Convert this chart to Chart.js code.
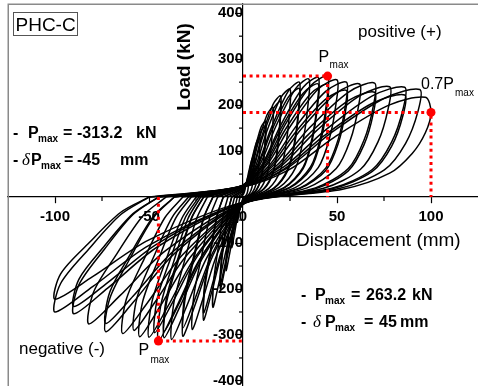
<!DOCTYPE html>
<html><head><meta charset="utf-8">
<script src="https://cdn.jsdelivr.net/npm/chart.js@4"></script>
<style>html,body{margin:0;padding:0;background:#fff}canvas{display:block}</style>
</head><body>
<canvas id="c" width="478" height="386"></canvas>
<script>
// ---- tick values ----
const xTicks=[-100,-50,0,50,100];
const yTicks=[-400,-300,-200,-100,0,100,200,300,400];
const xMinor=[-75,-25,25,75];
const yMinor=[-350,-250,-150,-50,50,150,250,350];
// ---- key points (displacement, load) ----
const pmaxPos=[45,263.2];
const pmax07=[100,184.2];
const pmaxNeg=[-45,-313.2];
// ---- hysteresis cycles, flat [disp(mm), load(kN), ...] ----
const cyc01=[-1.5,0, 0,5, 0.8,12, 1.5,27, 2.4,41, 3,45, 3,36, 2.8,22, 2.4,11, 1.7,4, 0,-3, -1.5,-23, -2.4,-43, -3,-55, -2.9,-41, -2.5,-25, -2,-8, -1.5,0];
const cyc02=[-3,0, 0,9, 1.5,24, 3,54, 4.8,83, 6,90, 5.9,72, 5.5,45, 4.8,22, 3.3,7, 0,-6, -3,-46, -4.8,-86, -6,-110, -5.8,-82, -4.9,-50, -3.9,-16, -3,0];
const cyc03=[-4.5,0, 0,13, 2.3,35, 4.5,78, 7.2,120, 9,130, 8.9,104, 8.3,65, 7.2,32, 5,10, 0,-8, -4.5,-67, -7.2,-125, -9,-160, -8.7,-120, -7.4,-72, -5.9,-24, -4.5,0];
const cyc04=[-6,0, 0,17, 3,45, 6,99, 9.6,152, 12,165, 11.9,132, 11,83, 9.6,41, 6.6,13, 0,-10, -6,-84, -9.6,-156, -12,-200, -11.6,-150, -9.8,-90, -7.8,-30, -6,0];
const cyc04b=[-6,0, 0,16, 3,42, 6,93, 9.6,143, 12,155, 11.9,124, 11,78, 9.6,39, 6.6,12, 0,-9, -6,-79, -9.6,-147, -12,-188, -11.6,-141, -9.8,-85, -7.8,-28, -6,0];
const cyc05=[-8,0, 0,20, 4,53, 8,117, 12.8,179, 16,195, 15.8,156, 14.7,98, 12.8,49, 8.8,16, 0,-12, -8,-101, -12.8,-187, -16,-240, -15.5,-180, -13.1,-108, -10.4,-36, -8,0];
const cyc06=[-10.5,0, 0,22, 5,59, 10,132, 16,202, 20,220, 19.8,176, 18.4,110, 16,55, 11,18, 0,-13, -10.5,-113, -16.8,-209, -21,-268, -20.4,-201, -17.2,-121, -13.7,-40, -10.5,0];
const cyc06b=[-10.5,0, 0,21, 5,56, 10,125, 16,191, 20,208, 19.8,166, 18.4,104, 16,52, 11,17, 0,-13, -10.5,-106, -16.8,-197, -21,-252, -20.4,-189, -17.2,-113, -13.7,-38, -10.5,0];
const cyc07=[-13.5,0, 0,24, 6.3,63, 12.5,141, 20,216, 25,235, 24.8,188, 23,118, 20,59, 13.8,19, 0,-14, -13.5,-121, -21.6,-225, -27,-288, -26.2,-216, -22.1,-130, -17.6,-43, -13.5,0];
const cyc08=[-16,0, 0,25, 7.5,68, 15,150, 24,230, 30,250, 29.7,200, 27.6,125, 24,63, 16.5,20, 0,-15, -16,-127, -25.6,-236, -32,-303, -31,-227, -26.2,-136, -20.8,-45, -16,0];
const cyc08b=[-16,0, 0,24, 7.5,64, 15,142, 24,217, 30,236, 29.7,189, 27.6,118, 24,59, 16.5,19, 0,-14, -16,-120, -25.6,-222, -32,-285, -31,-214, -26.2,-128, -20.8,-43, -16,0];
const cyc09=[-19,0, 0,26, 8.8,69, 17.5,154, 28,236, 35,257, 34.7,206, 32.2,129, 28,64, 19.3,21, 0,-16, -19,-130, -30.4,-242, -38,-310, -36.9,-233, -31.2,-140, -24.7,-47, -19,0];
const cyc10=[-21,0, 0,26, 10,70, 20,156, 32,239, 40,260, 39.6,208, 36.8,130, 32,65, 22,21, 0,-15, -21,-129, -33.6,-239, -42,-306, -40.7,-230, -34.4,-138, -27.3,-46, -21,0];
const cyc10b=[-21,0, 0,25, 10,66, 20,148, 32,226, 40,246, 39.6,197, 36.8,123, 32,62, 22,20, 0,-15, -21,-123, -33.6,-228, -42,-292, -40.7,-219, -34.4,-131, -27.3,-44, -21,0];
const cyc11=[-22.5,0, 0,26, 11.3,71, 22.5,158, 36,242, 45,263.2, 44.6,211, 41.4,132, 36,66, 24.8,21, 0,-16, -22.5,-132, -36,-244, -45,-313.2, -43.7,-235, -36.9,-141, -29.3,-47, -22.5,0];
const cyc12=[-23.5,0, 0,25, 11.3,66, 22.5,147, 36,225, 45,245, 44.6,196, 41.4,123, 36,61, 24.8,20, 0,-15, -23.5,-124, -37.6,-230, -47,-295, -45.6,-221, -38.5,-133, -30.6,-44, -23.5,0];
const cyc13=[-25,0, 0,26, 12.5,69, 25,153, 40,235, 50,255, 49.5,204, 46,128, 40,64, 27.5,20, 0,-15, -25,-128, -40,-238, -50,-305, -48.5,-229, -41,-137, -32.5,-46, -25,0];
const cyc14=[-27.5,0, 0,25, 13.8,68, 27.5,150, 44,230, 55,250, 54.5,200, 50.6,125, 44,63, 30.3,20, 0,-15, -27.5,-128, -44,-237, -55,-304, -53.4,-228, -45.1,-137, -35.8,-46, -27.5,0];
const cyc15=[-29,0, 0,23, 13.8,63, 27.5,139, 44,213, 55,232, 54.5,186, 50.6,116, 44,58, 30.3,19, 0,-15, -29,-122, -46.4,-226, -58,-290, -56.3,-218, -47.6,-131, -37.7,-44, -29,0];
const cyc16=[-32,0, 0,25, 15.5,66, 31,148, 49.6,226, 62,246, 61.4,197, 57,123, 49.6,62, 34.1,20, 0,-15, -32,-125, -51.2,-232, -64,-297, -62.1,-223, -52.5,-134, -41.6,-45, -32,0];
const cyc17=[-36.5,0, 0,25, 17.5,67, 35,149, 56,228, 70,248, 69.3,198, 64.4,124, 56,62, 38.5,20, 0,-15, -36.5,-123, -58.4,-229, -73,-293, -70.8,-220, -59.9,-132, -47.5,-44, -36.5,0];
const cyc18=[-36.5,0, 0,23, 17.5,62, 35,137, 56,210, 70,228, 69.3,182, 64.4,114, 56,57, 38.5,18, 0,-14, -36.5,-116, -58.4,-215, -73,-275, -70.8,-206, -59.9,-124, -47.5,-41, -36.5,0];
const cyc19=[-41,0, 0,24, 19.5,65, 39,144, 62.4,221, 78,240, 77.2,192, 71.8,120, 62.4,60, 42.9,19, 0,-14, -41,-116, -65.6,-215, -82,-276, -79.5,-207, -67.2,-124, -53.3,-41, -41,0];
const cyc20=[-45,0, 0,24, 21.5,65, 43,143, 68.8,220, 86,239, 85.1,191, 79.1,120, 68.8,60, 47.3,19, 0,-13, -45,-107, -72,-198, -90,-254, -87.3,-191, -73.8,-114, -58.5,-38, -45,0];
const cyc21=[-45,0, 0,22, 21.5,60, 43,133, 68.8,204, 86,222, 85.1,178, 79.1,111, 68.8,56, 47.3,18, 0,-12, -45,-100, -72,-186, -90,-238, -87.3,-179, -73.8,-107, -58.5,-36, -45,0];
const cyc22=[-50,0, 0,23, 23.5,63, 47,140, 75.2,215, 94,234, 93.1,187, 86.5,117, 75.2,59, 51.7,19, 0,-13, -50,-105, -80,-195, -100,-250, -97,-188, -82,-113, -65,-38, -50,0];
const cyc23=[-50,0, 0,22, 24.3,59, 48.5,130, 77.6,200, 97,217, 100,184.2, 97,140, 90,95, 78,52, 53,17, 0,-11, -50,-93, -80,-173, -100,-222, -97,-167, -82,-100, -65,-33, -50,0];
const cycles=[cyc01,cyc02,cyc03,cyc04,cyc04b,cyc05,cyc06,cyc06b,cyc07,cyc08,cyc08b,cyc09,cyc10,cyc10b,cyc11,cyc12,cyc13,cyc14,cyc15,cyc16,cyc17,cyc18,cyc19,cyc20,cyc21,cyc22,cyc23];

const FONT='"Liberation Sans", Arial, Helvetica, sans-serif';
function toPts(a){const r=[];for(let i=0;i<a.length;i+=2)r.push({x:a[i],y:a[i+1]});return r;}

const datasets=[];
const RED='#ff0000';
const dotted={showLine:true,borderColor:RED,borderWidth:3,borderDash:[3,3.6],pointRadius:0,tension:0,order:0,borderCapStyle:'butt'};
datasets.push(Object.assign({data:[{x:0,y:pmaxPos[1]},{x:pmaxPos[0],y:pmaxPos[1]},{x:pmaxPos[0],y:0}]},dotted));
datasets.push(Object.assign({data:[{x:0,y:pmax07[1]},{x:pmax07[0],y:pmax07[1]},{x:pmax07[0],y:0}]},dotted));
datasets.push(Object.assign({data:[{x:pmaxNeg[0],y:0},{x:pmaxNeg[0],y:pmaxNeg[1]},{x:0,y:pmaxNeg[1]}]},dotted));
datasets.push({data:[pmaxPos,pmax07,pmaxNeg].map(p=>({x:p[0],y:p[1]})),showLine:false,pointRadius:4.5,pointBackgroundColor:RED,pointBorderColor:RED,pointBorderWidth:0,order:-1});
cycles.forEach(c=>datasets.push({data:toPts(c),showLine:true,borderColor:'#000',borderWidth:1.5,pointRadius:0,tension:0.3,order:1,fill:false}));

function sub(ctx,parts){
  parts.forEach(p=>{ctx.font=p[1];ctx.fillText(p[0],p[2],p[3]);});
}
const B16='bold 16px '+FONT, B10='bold 10px '+FONT, ID='italic 17px "Liberation Serif", "DejaVu Serif", serif';
const R16='16px '+FONT, R10='10px '+FONT;

const deco={
  id:'deco',
  beforeDatasetsDraw(chart){
    const {ctx,chartArea:a,scales:{x,y}}=chart;
    ctx.save();
    ctx.strokeStyle='#8a8a8a';ctx.lineWidth=1.5;
    ctx.strokeRect(a.left+0.25,a.top+0.25,a.right-a.left+6,a.bottom-a.top+6);
    ctx.strokeStyle='#000';ctx.lineWidth=1.2;
    const y0=y.getPixelForValue(0),x0=x.getPixelForValue(0);
    xMinor.forEach(v=>{const p=x.getPixelForValue(v);ctx.beginPath();ctx.moveTo(p,y0);ctx.lineTo(p,y0+4);ctx.stroke();});
    yMinor.forEach(v=>{const p=y.getPixelForValue(v);ctx.beginPath();ctx.moveTo(x0,p);ctx.lineTo(x0-4,p);ctx.stroke();});
    ctx.restore();
  },
  afterDatasetsDraw(chart){
    const {ctx,chartArea:a,scales:{x,y}}=chart;
    ctx.save();
    ctx.fillStyle='#000';ctx.textBaseline='alphabetic';ctx.textAlign='left';
    // sample box
    ctx.fillStyle='#fff';ctx.fillRect(13.5,12.5,64,23);
    ctx.strokeStyle='#555';ctx.lineWidth=1;ctx.strokeRect(13.5,12.5,64,23);
    ctx.fillStyle='#000';ctx.font='19px '+FONT;ctx.fillText('PHC-C',15.5,31);
    // axis titles
    ctx.font='19px '+FONT;ctx.fillText('Displacement (mm)',296,246);
    ctx.save();ctx.translate(185,67);ctx.rotate(-Math.PI/2);ctx.textAlign='center';ctx.textBaseline='middle';
    ctx.font='bold 19px '+FONT;ctx.fillText('Load (kN)',0,0);ctx.restore();
    // direction labels
    ctx.font='17px '+FONT;ctx.fillText('positive (+)',358,37);ctx.fillText('negative (-)',19,354);
    // point labels (anchored to data points)
    const pp={x:x.getPixelForValue(pmaxPos[0]),y:y.getPixelForValue(pmaxPos[1])};
    const p7={x:x.getPixelForValue(pmax07[0]),y:y.getPixelForValue(pmax07[1])};
    const pn={x:x.getPixelForValue(pmaxNeg[0]),y:y.getPixelForValue(pmaxNeg[1])};
    sub(ctx,[['P',R16,pp.x-9,pp.y-14],['max',R10,pp.x+2,pp.y-8]]);
    sub(ctx,[['0.7P',R16,p7.x-10,p7.y-23],['max',R10,p7.x+24,p7.y-16]]);
    sub(ctx,[['P',R16,pn.x-20,pn.y+14],['max',R10,pn.x-8,pn.y+22]]);
    // result texts
    sub(ctx,[['-',B16,13,138],['P',B16,28,138],['max',B10,38,142],['=',B16,63,138],['-313.2',B16,77,138],['kN',B16,136,138]]);
    sub(ctx,[['-',B16,13,165],['\u03b4',ID,22,165],['P',B16,31,165],['max',B10,41,169],['=',B16,64,165],['-45',B16,77,165],['mm',B16,120,165]]);
    sub(ctx,[['-',B16,301,300],['P',B16,315,300],['max',B10,325,304],['=',B16,351,300],['263.2',B16,366,300],['kN',B16,412,300]]);
    sub(ctx,[['-',B16,301,327],['\u03b4',ID,313,327],['P',B16,325,327],['max',B10,335,331],['=',B16,364,327],['45',B16,379,327],['mm',B16,400,327]]);
    ctx.restore();
  }
};

function fitX(s){s.height=0;s.paddingLeft=0;s.paddingRight=0;s.paddingTop=0;s.paddingBottom=0;}
function fitY(s){s.width=0;s.paddingLeft=0;s.paddingRight=0;s.paddingTop=0;s.paddingBottom=0;}

new Chart(document.getElementById('c'),{
  type:'scatter',
  data:{datasets},
  options:{
    responsive:false,animation:false,devicePixelRatio:1,
    layout:{autoPadding:false,padding:{left:8,top:4,right:0,bottom:0}},
    plugins:{legend:{display:false},tooltip:{enabled:false}},
    scales:{
      x:{type:'linear',min:-125,max:125,position:{y:0},
        afterBuildTicks:s=>{s.ticks=xTicks.map(v=>({value:v}));},
        afterFit:fitX,
        grid:{drawOnChartArea:false,drawTicks:true,tickLength:6,tickColor:'#000',tickWidth:1.2},
        border:{display:true,color:'#000',width:1.2},
        ticks:{font:{family:FONT,size:15,weight:'bold'},color:'#000',padding:5,maxRotation:0,autoSkip:false}},
      y:{type:'linear',min:-411,max:420,position:{x:0},
        afterBuildTicks:s=>{s.ticks=yTicks.map(v=>({value:v}));},
        afterFit:fitY,
        grid:{drawOnChartArea:false,drawTicks:true,tickLength:7,tickColor:'#000',tickWidth:1.2},
        border:{display:true,color:'#000',width:1.2},
        ticks:{font:{family:FONT,size:15,weight:'bold'},color:'#000',padding:4,autoSkip:false,
          callback:v=>v===0?'':String(v)}}
    }
  },
  plugins:[deco]
});
</script>
</body></html>
